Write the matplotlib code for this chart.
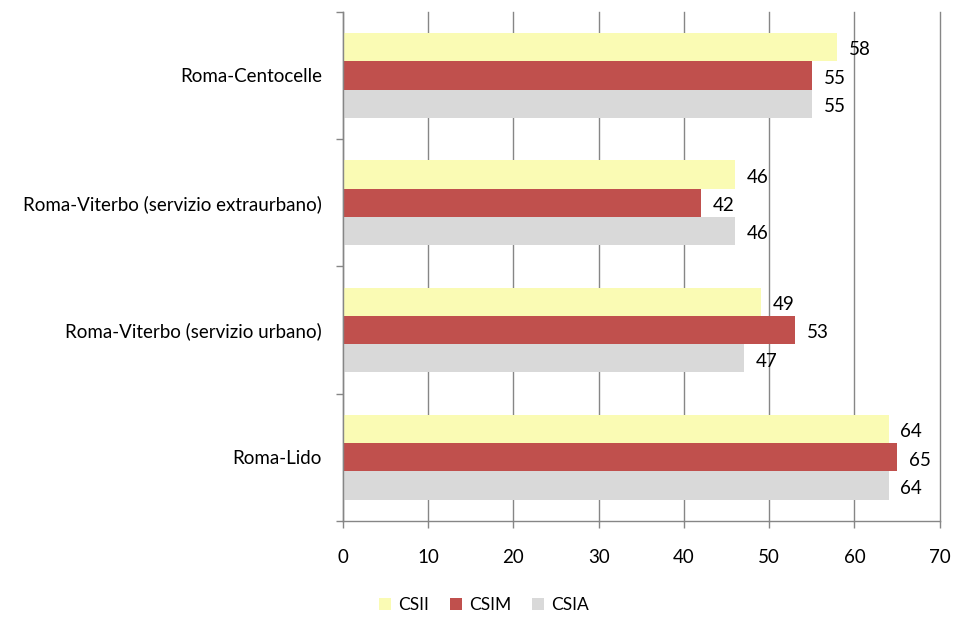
import numpy as np
import matplotlib
matplotlib.use('Agg')
import matplotlib.pyplot as plt

plt.rcParams['font.family'] = ['Lato', 'DejaVu Sans']

# Dati (dall'alto verso il basso)
categorie = ['Roma-Centocelle',
             'Roma-Viterbo (servizio extraurbano)',
             'Roma-Viterbo (servizio urbano)',
             'Roma-Lido']
csii = [58, 46, 49, 64]
csim = [55, 42, 53, 65]
csia = [55, 46, 47, 64]
serie = ['CSII', 'CSIM', 'CSIA']
colori = ['#FAFBB4', '#C0504D', '#D9D9D9']

fig = plt.figure(figsize=(9.55, 6.18), dpi=100)
ax = fig.add_axes([0.359, 0.157, 0.625, 0.824])

y = np.arange(len(categorie))
h = 0.222
for i, (nome, valori, col) in enumerate(zip(serie, [csii, csim, csia], colori)):
    pos = y + (i - 1) * h
    ax.barh(pos, valori, height=h, color=col, label=nome, zorder=2)
    for p, v in zip(pos, valori):
        ax.annotate(str(v), (v, p), xytext=(8.5, -2), textcoords='offset points',
                    va='center', ha='left', fontsize=13.5, color='black')

ax.set_ylim(len(categorie) - 0.5, -0.5)
ax.set_xlim(0, 70)
ax.set_xticks(range(0, 71, 10))
ax.set_yticks(y)
ax.set_yticklabels(categorie, fontsize=13.5)
ax.set_yticks(np.arange(-0.5, len(categorie), 1), minor=True)
ax.tick_params(axis='y', which='major', length=0, pad=15)
ax.tick_params(axis='y', which='minor', length=5, color='#868686', width=1)
ax.tick_params(axis='x', length=5, color='#868686', width=1, pad=15, labelsize=13.5)

ax.grid(axis='x', color='#868686', linewidth=1, zorder=0)
for gl in ax.get_xgridlines():
    gl.set_clip_on(False)
for s in ['top', 'right']:
    ax.spines[s].set_visible(False)
for s in ['left', 'bottom']:
    ax.spines[s].set_color('#868686')
    ax.spines[s].set_linewidth(1)

fig.legend(loc='lower center', bbox_to_anchor=(0.507, -0.018), ncol=3, frameon=False,
           fontsize=12.5, handlelength=0.7, handleheight=0.7, handletextpad=0.4,
           columnspacing=1.2)

fig.savefig('out.png', dpi=100)
